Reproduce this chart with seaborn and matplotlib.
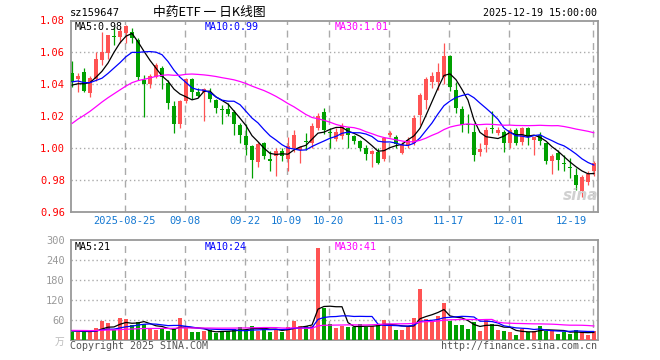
import numpy as np
import pandas as pd
import matplotlib
matplotlib.use("Agg")
import matplotlib.pyplot as plt
import matplotlib.transforms as mtransforms
import seaborn as sns

# ---------------- data ----------------
open_ = [1.0469, 1.0431, 1.0479, 1.0348, 1.0431, 1.0552, 1.0594, 1.0702, 1.0698, 1.0720,
         1.0727, 1.0680, 1.0427, 1.0400, 1.0446, 1.0505, 1.0406, 1.0264, 1.0152, 1.0296,
         1.0433, 1.0350, 1.0354, 1.0350, 1.0302, 1.0245, 1.0246, 1.0225, 1.0146, 1.0079,
         1.0015, 0.9913, 1.0030, 0.9935, 0.9954, 0.9983, 0.9931, 1.0000, 0.9990, 1.0043,
         1.0031, 1.0125, 1.0229, 1.0098, 1.0058, 1.0079, 1.0125, 1.0079, 1.0046, 1.0004,
         0.9962, 0.9979, 0.9933, 1.0083, 1.0073, 0.9969, 1.0021, 1.0031, 1.0208, 1.0302,
         1.0417, 1.0417, 1.0448, 1.0579, 1.0365, 1.0243, 1.0148, 1.0100, 0.9979, 1.0017,
         1.0122, 1.0094, 1.0104, 1.0030, 1.0115, 1.0040, 1.0125, 1.0052, 1.0080, 1.0035,
         0.9917, 0.9969, 0.9902, 0.9882, 0.9833, 0.9733, 0.9785, 0.9858]
high = [1.0548, 1.0469, 1.0500, 1.0450, 1.0604, 1.0729, 1.0712, 1.0760, 1.0760, 1.0770,
        1.0752, 1.0690, 1.0460, 1.0464, 1.0533, 1.0515, 1.0430, 1.0295, 1.0300, 1.0440,
        1.0440, 1.0375, 1.0380, 1.0375, 1.0310, 1.0270, 1.0280, 1.0240, 1.0160, 1.0150,
        1.0020, 1.0040, 1.0037, 0.9980, 1.0000, 1.0000, 1.0073, 1.0114, 1.0015, 1.0098,
        1.0156, 1.0223, 1.0254, 1.0125, 1.0125, 1.0160, 1.0130, 1.0085, 1.0052, 1.0020,
        0.9990, 1.0000, 1.0073, 1.0108, 1.0083, 1.0040, 1.0067, 1.0208, 1.0344, 1.0448,
        1.0480, 1.0531, 1.0656, 1.0583, 1.0417, 1.0267, 1.0212, 1.0160, 1.0030, 1.0135,
        1.0233, 1.0135, 1.0115, 1.0125, 1.0125, 1.0135, 1.0135, 1.0070, 1.0104, 1.0035,
        0.9963, 0.9990, 0.9958, 0.9937, 0.9875, 0.9830, 0.9854, 0.9917]
low = [1.0385, 1.0354, 1.0350, 1.0323, 1.0420, 1.0521, 1.0560, 1.0646, 1.0660, 1.0660,
       1.0660, 1.0430, 1.0195, 1.0377, 1.0440, 1.0370, 1.0244, 1.0096, 1.0125, 1.0280,
       1.0306, 1.0320, 1.0173, 1.0290, 1.0220, 1.0150, 1.0200, 1.0083, 1.0030, 0.9960,
       0.9812, 0.9880, 0.9930, 0.9860, 0.9827, 0.9920, 0.9854, 0.9979, 0.9908, 0.9990,
       1.0000, 1.0115, 1.0089, 1.0000, 1.0046, 1.0060, 1.0000, 1.0025, 0.9980, 0.9927,
       0.9885, 0.9900, 0.9920, 1.0070, 1.0004, 0.9962, 1.0004, 1.0020, 1.0146, 1.0246,
       1.0375, 1.0365, 1.0400, 1.0360, 1.0220, 1.0100, 1.0094, 0.9920, 0.9954, 0.9973,
       1.0094, 1.0083, 0.9973, 1.0000, 1.0020, 1.0021, 1.0021, 0.9958, 1.0020, 0.9900,
       0.9838, 0.9865, 0.9854, 0.9812, 0.9740, 0.9692, 0.9770, 0.9823]
close = [1.0416, 1.0452, 1.0360, 1.0438, 1.0556, 1.0604, 1.0708, 1.0698, 1.0735, 1.0764,
         1.0690, 1.0445, 1.0400, 1.0452, 1.0520, 1.0445, 1.0281, 1.0152, 1.0298, 1.0433,
         1.0350, 1.0329, 1.0369, 1.0306, 1.0250, 1.0241, 1.0215, 1.0150, 1.0083, 1.0017,
         0.9927, 1.0025, 0.9948, 0.9920, 0.9983, 0.9948, 1.0012, 1.0083, 1.0008, 1.0039,
         1.0139, 1.0202, 1.0114, 1.0094, 1.0100, 1.0142, 1.0083, 1.0046, 1.0004, 0.9962,
         0.9983, 0.9910, 1.0063, 1.0098, 1.0025, 1.0025, 1.0052, 1.0187, 1.0333, 1.0433,
         1.0452, 1.0480, 1.0579, 1.0385, 1.0250, 1.0146, 1.0144, 0.9958, 0.9996, 1.0115,
         1.0118, 1.0115, 1.0035, 1.0115, 1.0035, 1.0125, 1.0067, 1.0067, 1.0046, 0.9917,
         0.9948, 0.9927, 0.9898, 0.9878, 0.9767, 0.9817, 0.9838, 0.9906]
volume = [25, 23, 25, 25, 35, 57, 50, 29, 65, 62, 45, 55, 49, 35, 29, 35, 27, 35, 65, 35,
          23, 23, 27, 29, 21, 27, 27, 33, 39, 29, 43, 27, 39, 25, 29, 23, 39, 57, 43, 43,
          43, 277, 97, 47, 35, 43, 39, 39, 47, 39, 43, 47, 60, 45, 30, 30, 39, 67, 153, 63,
          57, 73, 111, 57, 45, 45, 33, 53, 27, 62, 47, 30, 27, 25, 15, 33, 23, 27, 43, 27,
          30, 19, 23, 19, 30, 23, 15, 27]
# closes / volumes before the visible window (estimated from the MA lines at the left edge)
prior_close = [0.962, 0.966, 0.968, 0.969, 0.972,
               0.990, 0.996, 1.000, 1.004, 1.006, 1.006,
               1.015, 1.020, 1.022, 1.024,
               1.020, 1.024, 1.028, 1.026, 1.030,
               1.040, 1.046, 1.044, 1.042, 1.046,
               1.041, 1.036, 1.040, 1.039]
prior_volume = [30, 28, 35, 26, 31, 29, 27, 33, 30, 25, 28, 32, 27, 30, 29,
                26, 31, 28, 33, 27, 30, 26, 29, 31, 28, 25, 30, 27, 29]

date_ticks = [9, 19, 29, 36, 43, 53, 63, 73, 87]
date_labels = ["2025-08-25", "09-08", "09-22", "10-09", "10-20", "11-03", "11-17", "12-01", "12-19"]
price_ticks = [0.96, 0.98, 1.00, 1.02, 1.04, 1.06, 1.08]
vol_ticks = [60, 120, 180, 240, 300]
price_legend = ["MA5:0.98", "MA10:0.99", "MA30:1.01"]
vol_legend = ["MA5:21", "MA10:24", "MA30:41"]
ma_colors = {"MA5": "#000000", "MA10": "#0000ff", "MA30": "#ff00ff"}

RED = "#ff5353"
GREEN = "#00a000"
GRID = "#aaaaaa"
SPINE = "#999999"

# ---------------- figure ----------------
sns.set_theme(style="white")
plt.rcParams["font.family"] = ["DejaVu Sans Mono", "Noto Sans CJK SC"]

W, H = 660, 360
fig = plt.figure(figsize=(W / 100, H / 100), dpi=100)
fig.patch.set_facecolor("white")


def rect(l, t, r, b):
    return [l / W, 1 - b / H, (r - l) / W, (b - t) / H]


def ftxt(x, y, s, **kw):
    kw.setdefault("va", "center")
    fig.text(x / W, 1 - y / H, s, **kw)


axp = fig.add_axes(rect(70.5, 20.5, 598, 212))
axv = fig.add_axes(rect(70.5, 240, 598, 340))

n = len(close)
idx = np.arange(n)
o = np.array(open_)
c = np.array(close)
hi = np.array(high)
lo = np.array(low)
v = np.array(volume)
up = c >= o
cols = np.where(up, RED, GREEN)

# moving averages
allc = pd.Series(prior_close + close)
allv = pd.Series(prior_volume + volume)
pm = pd.DataFrame({"i": idx})
vm = pd.DataFrame({"i": idx})
for k in (5, 10, 30):
    pm[f"MA{k}"] = allc.rolling(k).mean().iloc[len(prior_close):].to_numpy()
    vm[f"MA{k}"] = allv.rolling(k).mean().iloc[len(prior_volume):].to_numpy()
pm = pm.melt("i", var_name="ma", value_name="val")
vm = vm.melt("i", var_name="ma", value_name="val")

for ax in (axp, axv):
    ax.set_facecolor("white")
    for t in date_ticks:
        ax.axvline(t - 0.2, color=GRID, lw=1, ls=(0, (5, 4)), zorder=1)
    for sp in ax.spines.values():
        sp.set_color(SPINE)
        sp.set_linewidth(1.3)
        sp.set_visible(True)
    ax.set_xlim(-0.25, 87.67)
    ax.tick_params(axis="both", length=0)

# price panel
for yv in price_ticks[1:-1]:
    axp.axhline(yv, color=GRID, lw=1, ls=(0, (1, 2)), zorder=1)
axp.vlines(idx, lo, hi, colors=cols, lw=0.9, zorder=3)
axp.bar(idx, np.maximum(np.abs(c - o), 0.0007), bottom=np.minimum(o, c),
        width=0.8, color=cols, linewidth=0, zorder=4)
sns.lineplot(data=pm, x="i", y="val", hue="ma", palette=ma_colors, ax=axp,
             lw=0.9, legend=False, zorder=5)
axp.set_ylim(0.96, 1.08)
axp.set_yticks(price_ticks)
axp.set_yticklabels([f"{t:.2f}" for t in price_ticks], color="#ff0000", fontsize=7.5)
axp.tick_params(axis="y", pad=4)
axp.set_xticks([])
axp.set_xlabel("")
axp.set_ylabel("")

trans = mtransforms.blended_transform_factory(axp.transData, axp.transAxes)
for t, lab in zip(date_ticks, date_labels):
    if t == date_ticks[-1]:
        axp.text(85.8, -0.047, lab, transform=trans, ha="right", va="center",
                 color="#1478d2", fontsize=7.5)
    else:
        axp.text(t - 0.2, -0.047, lab, transform=trans, ha="center", va="center",
                 color="#1478d2", fontsize=7.5)

# volume panel
for yv in vol_ticks[:-1]:
    axv.axhline(yv, color=GRID, lw=1, ls=(0, (1, 2)), zorder=1)
axv.bar(idx, v, width=0.8, color=cols, linewidth=0, zorder=3)
sns.lineplot(data=vm, x="i", y="val", hue="ma", palette=ma_colors, ax=axv,
             lw=0.9, legend=False, zorder=5)
axv.set_ylim(0, 300)
axv.set_yticks(vol_ticks)
axv.set_yticklabels([str(t) for t in vol_ticks], color="#999999", fontsize=7.5)
axv.tick_params(axis="y", pad=4)
axv.set_xticks([])
axv.set_xlabel("")
axv.set_ylabel("")

# texts
ftxt(70, 13, "sz159647", ha="left", fontsize=7.5, color="#000000")
ftxt(209, 12.5, "中药ETF 一 日K线图", ha="center", fontsize=9.2, color="#000000",
     family=["Noto Sans CJK SC", "DejaVu Sans"])
ftxt(597, 12.5, "2025-12-19 15:00:00", ha="right", fontsize=7.2, color="#000000")

for x, s, col in zip([75, 204.3, 334.7], price_legend, ma_colors.values()):
    ftxt(x, 26.5, s, ha="left", fontsize=7.2, color=col)
for x, s, col in zip([75, 204.3, 334.7], vol_legend, ma_colors.values()):
    ftxt(x, 246.5, s, ha="left", fontsize=7.2, color=col)

ftxt(64, 342, "万", ha="right", fontsize=7, color="#bbbbbb",
     family=["Noto Sans CJK SC", "DejaVu Sans"])
ftxt(70, 346, "Copyright 2025 SINA.COM", ha="left", fontsize=7.2, color="#555555")
ftxt(597, 346, "http://finance.sina.com.cn", ha="right", fontsize=7.2, color="#555555")
ftxt(581, 196, "sina", ha="center", fontsize=11, color="#d0d0d0",
     family="DejaVu Sans", style="italic", weight="bold")

fig.savefig("out.png", dpi=100, facecolor="white")
